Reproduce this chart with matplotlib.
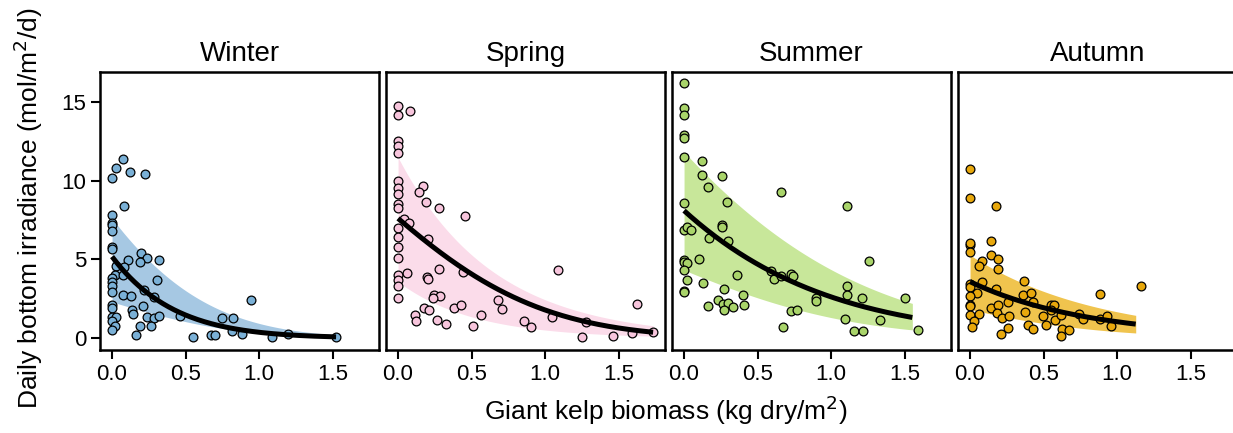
import numpy as np
import matplotlib
matplotlib.use("Agg")
import matplotlib.pyplot as plt

plt.rcParams['font.family'] = ['Liberation Sans', 'DejaVu Sans']

seasons = ["Winter", "Spring", "Summer", "Autumn"]

# ---- observed points (biomass kg dry/m2, irradiance mol/m2/d) ----
winter_x = [0, 0.03, 0.075, 0.125, 0.227, 0.08, 0, 0, 0, 0, 0, 0, 0.2, 0.236, 0.19, 0.11, 0.32,
            0.027, 0.08, 0.018, 0, 0, 0, 0, 0.077, 0.306, 0.215, 0.283, 0.075, 0.13, 0, 0, 0.21,
            0.136, 0.14, 0, 0.027, 0, 0.018, 0, 0.24, 0.283, 0.317, 0.19, 0.267, 0.165, 0.46,
            0.55, 0.675, 0.70, 0.75, 0.825, 0.816, 0.884, 0.946, 1.088, 1.197, 1.524]
winter_y = [10.17, 10.78, 11.4, 10.57, 10.42, 8.37, 7.8, 7.3, 7.16, 6.8, 5.78, 5.68, 5.4, 5.08,
            4.85, 4.94, 4.98, 4.55, 4.51, 3.98, 3.81, 3.54, 3.28, 2.94, 4.02, 3.67, 3.07, 2.58,
            2.73, 2.65, 2.12, 1.91, 2.06, 1.8, 1.53, 1.33, 1.33, 1.06, 0.74, 0.49, 1.33, 1.25,
            1.42, 0.78, 0.74, 0.17, 1.38, 0.06, 0.17, 0.17, 1.29, 1.27, 0.47, 0.25, 2.42, 0.06,
            0.28, 0.04]

spring_x = [0, 0, 0.084, 0, 0, 0, 0, 0, 0, 0, 0, 0.17, 0.141, 0.188, 0.276, 0.458, 0.041, 0.075,
            0, 0, 0, 0, 0.204, 0, 0, 0, 0, 0.063, 0.279, 0.442, 0.2, 0.204, 0.243, 0.283, 0.238,
            0.177, 0.209, 0.116, 0.125, 0.265, 0.324, 0.383, 0.426, 0.567, 0.51, 0.68, 0.707,
            0.855, 0.907, 1.086, 1.048, 1.252, 1.28, 1.463, 1.594, 1.628, 1.735]
spring_y = [14.73, 14.15, 14.4, 12.5, 12.22, 11.76, 9.96, 9.53, 9.17, 8.54, 8.26, 9.64, 9.28,
            8.67, 8.24, 7.78, 7.56, 7.29, 6.99, 6.4, 5.78, 5.08, 6.29, 4.03, 3.71, 3.33, 2.54,
            4.13, 4.39, 4.17, 3.88, 3.75, 2.75, 2.69, 2.54, 1.91, 1.8, 1.44, 1.06, 1.17, 0.91,
            1.91, 2.12, 1.48, 0.74, 2.39, 1.84, 1.06, 0.68, 4.3, 1.33, 0.06, 1.0, 0.1, 0.32,
            2.18, 0.38]

summer_x = [0, 0, 0, 0, 0, 0, 0.125, 0.125, 0.256, 0.166, 0.658, 0, 0.29, 1.107, 0, 0.02, 0.045,
            0.256, 0.256, 0.17, 0.3, 0, 0, 0.02, 0.1, 0, 0.018, 1.26, 0.363, 0.127, 0.59, 0.61,
            0.66, 0.73, 0.74, 0, 0, 0.275, 0.4, 0.233, 0.263, 0.3, 0.275, 0.33, 0.166, 0.41,
            1.11, 1.11, 0.896, 0.9, 1.213, 1.5, 0.728, 0.77, 1.095, 1.33, 0.676, 1.157, 1.218,
            1.59]
summer_y = [16.2, 14.6, 14.2, 12.88, 12.7, 11.5, 11.27, 10.38, 10.28, 9.58, 9.3, 8.58, 8.62,
            8.37, 6.89, 7.06, 6.89, 7.2, 7.06, 6.36, 6.19, 4.94, 4.83, 4.77, 5.04, 4.3, 3.71,
            4.87, 4.03, 3.5, 4.28, 3.75, 3.96, 4.09, 3.92, 2.97, 2.9, 3.14, 2.75, 2.44, 2.16,
            2.22, 1.8, 1.97, 2.01, 2.12, 3.28, 2.75, 2.54, 2.33, 2.54, 2.56, 1.69, 1.8, 1.23,
            1.12, 0.68, 0.42, 0.42, 0.53]

autumn_x = [0, 0, 0.175, 0, 0, 0, 0.143, 0.143, 0.188, 0.084, 0.063, 0.193, 0.367, 0.08, 0, 0,
            0.045, 0.175, 0, 0, 0, 0, 0.063, 0.03, 0.016, 0.14, 0.193, 0.26, 0.181, 0.22, 0.265,
            0.363, 0.415, 0.43, 0.377, 0.397, 0.426, 0.256, 0.209, 0.494, 0.515, 0.551, 0.574,
            0.551, 0.576, 0.621, 0.626, 0.621, 0.673, 0.741, 0.77, 0.884, 0.884, 0.93, 0.957,
            1.161]
autumn_y = [10.76, 8.92, 8.37, 5.93, 6.04, 5.44, 6.14, 5.25, 5.02, 4.87, 4.55, 4.39, 3.64, 3.56,
            3.45, 3.22, 2.86, 3.11, 2.65, 2.08, 2.01, 1.48, 1.55, 1.06, 0.68, 1.91, 2.12, 2.27,
            1.59, 1.27, 1.38, 2.75, 2.86, 2.27, 1.63, 0.81, 0.59, 0.64, 0.28, 1.42, 0.81, 2.12,
            2.08, 1.76, 1.17, 1.48, 0.57, 0.15, 0.49, 1.53, 1.21, 2.8, 1.21, 1.38, 0.78, 3.33]

# ---- fitted model (log link): log(mu) = b0 + b1*x + b2*x^2, with CI bounds ----
fit_xmax = [1.524, 1.735, 1.553, 1.127]
fit_coef = [(1.643, -2.40, -0.25), (2.028, -1.05, -0.40), (2.091, -1.05, -0.08), (1.275, -1.24, 0.0)]
upr_coef = [(2.028, -1.60, -0.50), (2.440, -1.55, 0.00), (2.470, -0.85, -0.15), (1.662, -1.15, 0.0)]
lwr_coef = [(0.829, -1.20, -0.75), (1.275, -1.95, 0.00), (1.463, -0.90, -0.30), (0.600, -1.20, -0.30)]

point_colors = ["#7ab0d6", "#f7c5dc", "#a9d46a", "#e8a80c"]
band_colors = ["#a6c8e3", "#fbdcea", "#c8e79a", "#f0c44e"]

xs = [winter_x, spring_x, summer_x, autumn_x]
ys = [winter_y, spring_y, summer_y, autumn_y]


def loglin(c, x):
    return np.exp(c[0] + c[1] * x + c[2] * x ** 2)


fig = plt.figure(figsize=(12.33, 4.33), dpi=100)
W, H = 1233.0, 433.0
lefts = [100, 386, 672, 958]
pw, ptop, pbot = 279, 72, 350

for i, s in enumerate(seasons):
    ax = fig.add_axes([lefts[i] / W, 1 - pbot / H, pw / W, (pbot - ptop) / H])
    xx = np.linspace(0, fit_xmax[i], 200)
    ax.fill_between(xx, loglin(lwr_coef[i], xx), loglin(upr_coef[i], xx),
                    color=band_colors[i], linewidth=0, zorder=1)
    ax.scatter(xs[i], ys[i], s=40, facecolor=point_colors[i], edgecolor="black",
               linewidths=0.9, zorder=3)
    ax.plot(xx, loglin(fit_coef[i], xx), color="black", lw=3.6, zorder=4,
            solid_capstyle="butt")
    ax.set_xlim(-0.082, 1.816)
    ax.set_ylim(-0.76, 16.9)
    ax.set_xticks([0, 0.5, 1.0, 1.5])
    ax.set_xticklabels(["0.0", "0.5", "1.0", "1.5"])
    ax.set_yticks([0, 5, 10, 15])
    for sp in ax.spines.values():
        sp.set_linewidth(1.8)
    ax.tick_params(direction="out", length=6.5, width=1.5, labelsize=16, pad=3.5, colors="black")
    if i > 0:
        ax.tick_params(axis="y", left=False, labelleft=False)
    ax.set_title(s, fontsize=20, pad=8)

fig.text(666 / W, 1 - 410 / H, "Giant kelp biomass (kg dry/m$^2$)", ha="center", va="center",
         fontsize=19)
fig.text(28 / W, 1 - 208 / H, "Daily bottom irradiance (mol/m$^2$/d)", ha="center", va="center",
         rotation=90, fontsize=19)

fig.savefig("out.png", dpi=100)
